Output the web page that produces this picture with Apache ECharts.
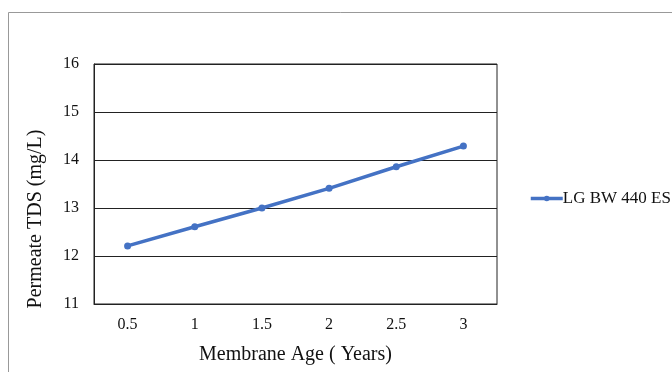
<!DOCTYPE html>
<html><head><meta charset="utf-8">
<script src="https://cdn.jsdelivr.net/npm/echarts@6/dist/echarts.min.js"></script>
<style>html,body{margin:0;padding:0;background:#fff}#c{width:672px;height:372px}</style>
</head><body><div id="c"></div>
<script>
const categories = ['0.5', '1', '1.5', '2', '2.5', '3'];
const tdsValues = [12.21, 12.61, 13.0, 13.41, 13.86, 14.29];
const seriesName = 'LG BW 440 ES';
const chart = echarts.init(document.getElementById('c'));
const font = 'Liberation Serif';
chart.setOption({
  animation: false,
  backgroundColor: '#fff',
  grid: { left: 94, right: 175, top: 64, bottom: 68, show: true, borderColor: '#222', borderWidth: 1 },
  graphic: [
    { type: 'polyline', shape: { points: [[8.5, 372], [8.5, 12.5], [672, 12.5]] }, style: { stroke: '#999', lineWidth: 1, fill: null } },
    { type: 'text', x: 36, y: 219, rotation: Math.PI / 2,
      style: { text: 'Permeate TDS (mg/L)', font: '20px "Liberation Serif"', fill: '#111', textAlign: 'center', textVerticalAlign: 'middle' } }
  ],
  legend: {
    data: [seriesName], orient: 'vertical', left: 524, top: 185,
    itemWidth: 32, itemHeight: 7, itemGap: 4,
    lineStyle: { width: 3.5 },
    textStyle: { fontFamily: font, fontSize: 17, color: '#111', padding: [0, 0, 0, -5] }
  },
  xAxis: {
    type: 'category', data: categories, boundaryGap: true,
    name: 'Membrane Age ( Years)', nameLocation: 'middle', nameGap: 41,
    nameTextStyle: { fontFamily: font, fontSize: 20, color: '#111' },
    axisLine: { lineStyle: { color: '#222', width: 1 } },
    axisTick: { show: false },
    axisLabel: { fontFamily: font, fontSize: 16, color: '#111', margin: 13 }
  },
  yAxis: {
    type: 'value', min: 11, max: 16, interval: 1,
    axisLine: { show: true, lineStyle: { color: '#222' } },
    axisTick: { show: false },
    axisLabel: { fontFamily: font, fontSize: 16, color: '#111', margin: 15 },
    splitLine: { lineStyle: { color: '#222', width: 1 } }
  },
  series: [{
    name: seriesName, type: 'line', data: tdsValues,
    symbol: 'circle', symbolSize: 7,
    lineStyle: { color: '#4472C4', width: 3.5 },
    itemStyle: { color: '#4472C4' }
  }]
});
</script></body></html>
